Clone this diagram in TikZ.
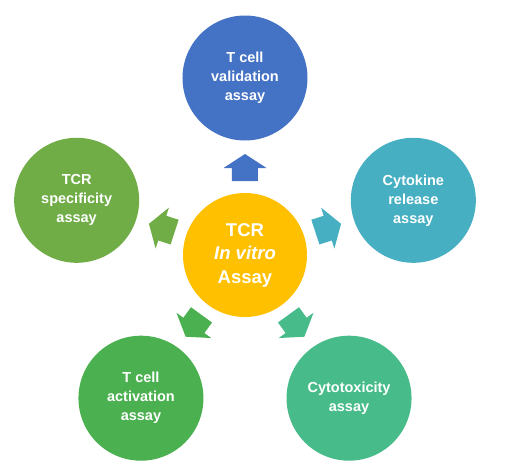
\documentclass[tikz,border=0pt]{standalone}
\usepackage{fontspec}
\setmainfont{Liberation Sans}
\usepackage{xcolor}
\usetikzlibrary{positioning}
\definecolor{myyellow}{HTML}{FFC000}
\definecolor{myblue}{HTML}{4472C4}
\definecolor{myteal}{HTML}{46AFC2}
\definecolor{myleaf}{HTML}{70AD47}
\definecolor{mygreen}{HTML}{4BB150}
\definecolor{mymint}{HTML}{47BC8A}
\tikzset{
assaybox/.style={
circle,
minimum size=125pt,
inner sep=0pt,
text=white,
align=center,
font=\fontsize{14.5}{19}\selectfont\bfseries
},
hubbox/.style={
circle,
fill=myyellow,
minimum size=124pt,
inner sep=0pt,
text=white,
align=center,
font=\fontsize{18.5}{23.5}\selectfont\bfseries
},
outarrow/.pic={
\fill (74,13) -- (87,13) -- (87,21.5) -- (101,0) -- (87,-21.5)
  -- (87,-13) -- (74,-13) -- cycle;
}
}

\begin{document}
\begin{tikzpicture}[x=1pt, y=1pt]

\useasboundingbox (-245,-220) rectangle (283,255);

\node[hubbox] (hub) at (0,0) {TCR\\\textit{In vitro}\\Assay};

\node[assaybox, fill=myblue] (validation) at (90:177) {T cell\\validation\\assay};
\node[assaybox, fill=myteal] (cytokine) at (18:177) {Cytokine\\release\\assay};
\node[assaybox, fill=mymint] (cytotox) at (-54:177) {Cytotoxicity\\assay};
\node[assaybox, fill=mygreen] (activation) at (234:177) {T cell\\activation\\assay};
\node[assaybox, fill=myleaf] (specificity) at (162:177) {TCR\\specificity\\assay};

% arrows from the hub to each assay
\pic[fill=myblue, rotate=90] {outarrow};
\pic[fill=myteal, rotate=18] {outarrow};
\pic[fill=mymint, rotate=-54] {outarrow};
\pic[fill=mygreen, rotate=234] {outarrow};
\pic[fill=myleaf, rotate=162] {outarrow};

\end{tikzpicture}
\end{document}
